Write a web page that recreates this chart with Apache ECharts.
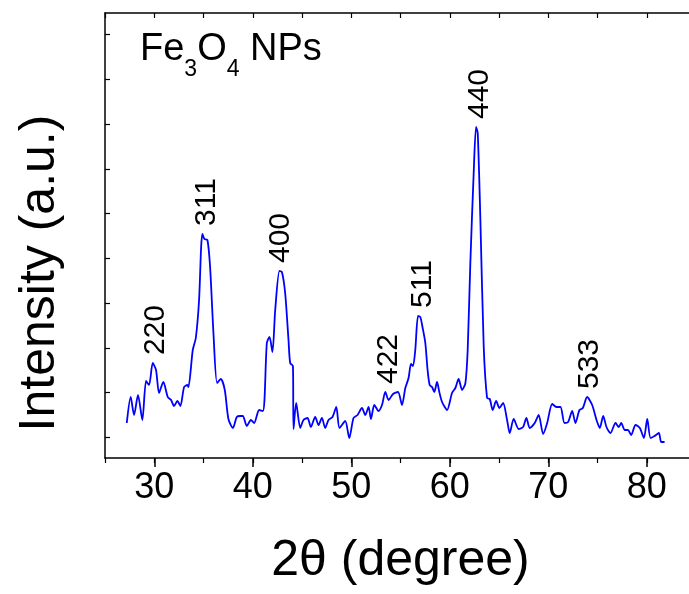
<!DOCTYPE html>
<html>
<head>
<meta charset="utf-8">
<script src="https://cdn.jsdelivr.net/npm/echarts@6/dist/echarts.min.js"></script>
<style>
  html, body { margin: 0; padding: 0; background: #fff; }
  #chart { width: 689px; height: 594px; }
</style>
</head>
<body>
<div id="chart"></div>
<script>
// XRD pattern of Fe3O4 nanoparticles
const twoTheta = [
  27.21, 27.61, 27.95, 28.35, 28.79, 29.17, 29.47, 29.85, 30.18, 30.49,
  30.92, 31.37, 31.71, 32.01, 32.35, 32.65, 33.03, 33.36, 33.47, 33.91,
  34.22, 34.55, 34.76, 34.89, 35.09, 35.40, 35.67, 36.01, 36.38, 36.76,
  37.16, 37.53, 37.98, 38.38, 38.72, 38.99, 39.40, 39.81, 40.14, 40.65,
  41.03, 41.19, 41.43, 41.70, 42.00, 42.28, 42.71, 42.96, 43.29, 43.63,
  43.80, 44.08, 44.14, 44.41, 44.82, 45.15, 45.56, 45.90, 46.34, 46.68,
  47.02, 47.36, 47.69, 48.10, 48.48, 48.81, 49.39, 49.80, 50.23, 50.64,
  51.09, 51.42, 51.76, 52.00, 52.34, 52.77, 53.12, 53.46, 53.79, 54.24,
  54.75, 55.15, 55.49, 55.82, 56.07, 56.27, 56.50, 56.78, 57.01, 57.25,
  57.52, 57.75, 57.96, 58.20, 58.43, 58.71, 58.94, 59.22, 59.73, 60.23,
  60.57, 60.90, 61.25, 61.59, 61.82, 62.09, 62.43, 62.67, 62.84, 63.11,
  63.45, 63.79, 64.06, 64.36, 64.71, 65.04, 65.42, 65.82, 66.09, 66.49,
  67.00, 67.45, 67.78, 68.12, 68.63, 69.03, 69.48, 69.89, 70.40, 70.83,
  71.24, 71.65, 72.02, 72.43, 72.76, 73.17, 73.51, 73.95, 74.46, 74.90,
  75.23, 75.58, 75.91, 76.32, 76.83, 77.16, 77.41, 77.77, 78.08, 78.42,
  78.86, 79.30, 79.71, 80.05, 80.39, 80.79, 81.23, 81.47, 81.81
];
const intensity = [
  35, 61, 43, 63, 38, 77, 73, 95, 88, 65,
  76, 61, 58, 52, 57, 52, 71, 73, 71, 108,
  120, 158, 211, 224, 219, 218, 191, 125, 75, 79,
  68, 39, 30, 41, 42, 42, 32, 38, 35, 48,
  47, 58, 115, 121, 106, 148, 187, 186, 165, 118,
  95, 92, 29, 55, 30, 38, 40, 31, 41, 33,
  40, 30, 38, 41, 51, 30, 37, 20, 40, 43,
  50, 43, 51, 39, 53, 47, 53, 66, 58, 64,
  66, 53, 70, 80, 94, 92, 108, 142, 141, 130,
  115, 88, 73, 71, 66, 76, 66, 56, 48, 65,
  70, 79, 68, 75, 108, 195, 285, 331, 325, 238,
  111, 60, 59, 48, 57, 50, 55, 38, 25, 39,
  29, 31, 40, 30, 35, 43, 24, 35, 54, 51,
  51, 35, 36, 47, 35, 48, 50, 61, 53, 38,
  30, 42, 31, 25, 35, 31, 35, 28, 28, 23,
  33, 30, 20, 39, 20, 22, 25, 16, 16
];

// Miller indices of the spinel reflections and their 2θ positions
const hkl = ['220', '311', '400', '422', '511', '440', '533'];
const hklAngle = [30.18, 35.37, 42.89, 53.76, 57.22, 63.01, 74.19];

// Axis ticks
const xMajorTicks = [30, 40, 50, 60, 70, 80];
const yTickValues = [21, 66, 110, 155, 200, 245, 289, 334, 379, 424];

const FONT = '"Liberation Sans", Arial, Helvetica, sans-serif';

const pattern = twoTheta.map((t, i) => [t, intensity[i]]);

// Label anchors: highest intensity within ±1° of each reflection
const hklPoints = hklAngle.map((a, i) => {
  let top = 0;
  twoTheta.forEach((t, j) => {
    if (Math.abs(t - a) <= 1.0 && intensity[j] > top) top = intensity[j];
  });
  return { value: [a, top], name: hkl[i] };
});

const chart = echarts.init(document.getElementById('chart'), null, { renderer: 'canvas' });

const plainAxis = {
  type: 'value',
  min: 25, max: 85, interval: 5,
  splitLine: { show: false }
};

chart.setOption({
  animation: false,
  backgroundColor: '#ffffff',
  title: {
    text: '{m|Fe}{s|3}{m|O}{s|4}{m| NPs}',
    left: 140,
    top: 31,
    padding: 0,
    textStyle: {
      fontWeight: 'normal',
      rich: {
        m: { fontFamily: FONT, fontSize: 38, fontWeight: 'normal', lineHeight: 44, color: '#000', verticalAlign: 'top' },
        s: { fontFamily: FONT, fontSize: 23, fontWeight: 'normal', lineHeight: 23, color: '#000', verticalAlign: 'top', padding: [27, 0, 0, 0] }
      }
    }
  },
  grid: { left: 105, top: 13, width: 591, height: 445, containLabel: false, outerBoundsMode: 'none' },
  xAxis: [
    Object.assign({}, plainAxis, {
      position: 'bottom',
      name: '2θ (degree)',
      nameLocation: 'middle',
      nameGap: 78,
      nameTextStyle: { fontFamily: FONT, fontSize: 50, color: '#000' },
      axisLine: { show: true, onZero: false, lineStyle: { color: '#000', width: 1.5 } },
      axisTick: { show: true, inside: false, length: 9, customValues: xMajorTicks, lineStyle: { color: '#000', width: 1.5 } },
      axisLabel: {
        show: true,
        fontFamily: FONT, fontSize: 36, color: '#000', margin: 12,
        formatter: v => (xMajorTicks.includes(v) ? String(v) : '')
      }
    }),
    Object.assign({}, plainAxis, {
      position: 'top',
      axisLine: { show: true, onZero: false, lineStyle: { color: '#000', width: 1.5 } },
      axisTick: { show: true, inside: true, length: 5, lineStyle: { color: '#000', width: 1.2 } },
      axisLabel: { show: false }
    }),
    // minor ticks along the bottom edge
    Object.assign({}, plainAxis, {
      position: 'bottom',
      offset: 0,
      axisLine: { show: false, onZero: false },
      axisTick: { show: true, inside: false, length: 5, lineStyle: { color: '#000', width: 1.2 } },
      axisLabel: { show: false }
    })
  ],
  yAxis: [
    {
      type: 'value',
      min: 0, max: 445,
      axisLine: { show: true, onZero: false, lineStyle: { color: '#000', width: 1.5 } },
      axisTick: { show: true, inside: true, length: 5, customValues: yTickValues, lineStyle: { color: '#000', width: 1.2 } },
      axisLabel: { show: false },
      splitLine: { show: false }
    }
  ],
  graphic: [
    {
      type: 'text',
      x: 40, y: 273,
      rotation: Math.PI / 2,
      style: {
        text: 'Intensity (a.u.)',
        fontFamily: FONT, fontSize: 50, fill: '#000',
        align: 'center', verticalAlign: 'middle'
      }
    }
  ],
  series: [
    {
      type: 'line',
      data: pattern,
      showSymbol: false,
      symbol: 'none',
      smooth: 0.25,
      lineStyle: { color: '#0000ff', width: 1.8 },
      z: 3
    },
    {
      type: 'scatter',
      data: hklPoints,
      symbolSize: 0,
      silent: true,
      itemStyle: { opacity: 1 },
      label: {
        show: true,
        position: 'top',
        distance: 8,
        rotate: 90,
        align: 'left',
        verticalAlign: 'middle',
        formatter: p => p.name,
        fontFamily: FONT, fontSize: 30, color: '#000', opacity: 1
      },
      z: 4
    }
  ]
});
</script>
</body>
</html>
